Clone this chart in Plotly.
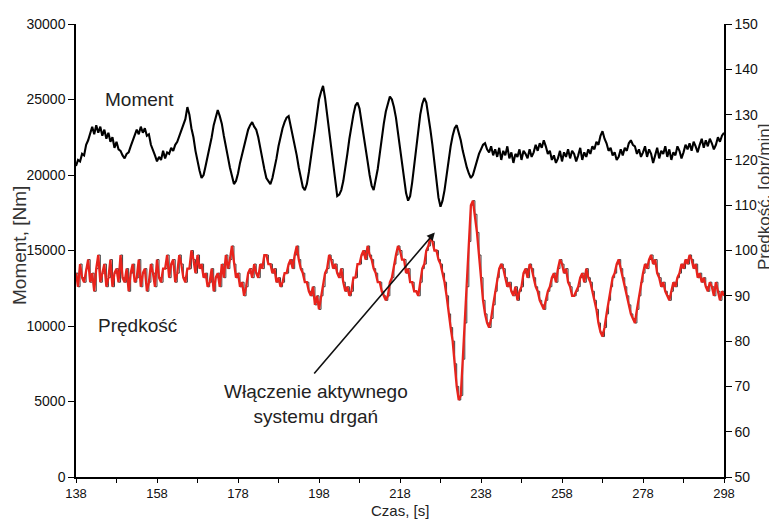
import numpy as np
import plotly.graph_objects as go

t0, t1, dt = 138.0, 298.0, 0.5
czas = [t0 + i * dt for i in range(int((t1 - t0) / dt) + 1)]

moment = [
    20600, 21000, 20900, 21400, 21300, 22000, 22300, 22700, 23200, 22700,
    23300, 22800, 23200, 22600, 23000, 22400, 22800, 22200, 22500, 21800,
    22200, 21700, 21600, 21300, 21100, 21400, 21500, 21900, 22300, 22600,
    23000, 22700, 23200, 22800, 23100, 22600, 22700, 22000, 21700, 21300,
    20900, 21200, 21000, 21600, 21100, 21500, 21400, 21800, 21600, 22000,
    22200, 22600, 22900, 23400, 23700, 24500, 24000, 23100, 22500, 21600,
    20900, 20300, 19800, 20000, 20600, 21200, 21900, 22500, 23300, 23800,
    24300, 23900, 23400, 22600, 22000, 21200, 20500, 19900, 19400, 19600,
    20100, 20800, 21400, 22000, 22600, 23000, 23300, 23500, 23200, 23000,
    22500, 21700, 21100, 20400, 19800, 19600, 19400, 19800, 20400, 21100,
    21900, 22600, 23100, 23500, 23800, 23900, 23300, 22700, 22100, 21300,
    20500, 19800, 19200, 19000, 19400, 20200, 21000, 22100, 23000, 23900,
    25000, 25500, 25900, 25100, 24000, 22800, 21600, 20400, 19300, 18600,
    18700, 19000, 19600, 20400, 21400, 22400, 23300, 24000, 24600, 24800,
    24400, 23600, 22800, 21900, 20900, 20000, 19300, 19000, 19600, 20400,
    21400, 22500, 23400, 24200, 24800, 25200, 25000, 24500, 23800, 22800,
    21800, 20700, 19600, 18800, 18300, 18600, 19500, 20600, 21900, 23000,
    24000, 24700, 25100, 24800, 24000, 23000, 22000, 20700, 19500, 18500,
    17900, 18300, 19000, 20000, 21000, 21900, 22600, 23100, 23300, 22800,
    22300, 21600, 21000, 20500, 20100, 19800, 20000, 20500, 20900, 21400,
    21700, 22000, 22100, 21700, 21500, 21900, 21300, 21700, 21200, 21800,
    21000, 21600, 21300, 21900, 21100, 21500, 20800, 21400, 21200, 21700,
    21000, 21600, 21400, 21100, 21700, 21200, 21500, 22000, 21600, 22100,
    21800, 22300, 21900, 21400, 21600, 21000, 21300, 20800, 21100, 21600,
    20900, 21500, 21200, 21700, 21100, 21600, 21400, 20900, 21300, 21800,
    21000, 21500, 21200, 21700, 21400, 21900, 21700, 22200, 22000, 22600,
    22900, 22400, 22100, 21600, 21800, 21300, 21500, 21000, 21200, 21700,
    21300, 21800, 21600, 22100, 22300, 22000, 21900, 21400, 21700, 21200,
    21500, 21900, 21200, 21700, 21400, 20800, 21300, 21800, 21100, 21600,
    21400, 21900, 21200, 21700, 21000, 21500, 21300, 21900, 21600, 21100,
    21500, 22000, 21700, 22100, 21600, 22200, 21900, 21500, 22000, 22400,
    21800, 22300, 21900, 22400, 22100, 21700, 22000, 22500, 22200, 22600,
    22800,
]

predkosc = [
    95, 92, 97, 94, 93, 96, 98, 93, 95, 91,
    96, 99, 93, 95, 97, 92, 94, 98, 92, 95,
    96, 93, 99, 94, 93, 96, 91, 95, 97, 93,
    94, 98, 92, 95, 96, 91, 93, 97, 95, 92,
    98, 94, 93, 96, 96, 99, 94, 97, 98, 93,
    95, 99, 97, 94, 93, 96, 96, 100, 98, 95,
    99, 96, 97, 94, 95, 92, 93, 96, 91, 94,
    95, 92, 97, 94, 99, 96, 98, 101, 97, 94,
    95, 92, 93, 90, 92, 95, 96, 94, 97, 95,
    94, 97, 96, 99, 99, 97, 97, 95, 96, 93,
    94, 92, 93, 95, 95, 97, 98, 96, 99, 101,
    98, 96, 95, 93, 93, 91, 90, 92, 88, 90,
    87, 90, 92, 95, 96, 99, 98, 96, 97, 95,
    94, 96, 93, 91, 92, 90, 91, 94, 94, 97,
    97, 99, 100, 98, 101, 99, 98, 96, 95, 93,
    93, 91, 90, 89, 90, 93, 94, 97, 99, 101,
    100, 98, 98, 95, 96, 93, 93, 91, 91, 90,
    93, 96, 97, 100, 101, 103, 102, 100, 100, 98,
    97, 95, 93, 90, 86, 83, 80, 75, 70, 67,
    68, 76, 84, 92, 102, 110, 111, 108, 104, 99,
    94, 89, 86, 84, 83, 85, 88, 91, 94, 96,
    97, 96, 94, 92, 93, 91, 90, 92, 89, 91,
    92, 95, 96, 94, 97, 96, 94, 92, 91, 89,
    88, 87, 89, 91, 92, 94, 95, 93, 96, 98,
    97, 95, 96, 93, 92, 90, 90, 91, 92, 94,
    95, 93, 96, 94, 93, 91, 89, 87, 84, 82,
    81, 83, 86, 89, 92, 94, 95, 97, 98, 96,
    94, 92, 90, 88, 86, 85, 84, 87, 90, 93,
    95, 97, 96, 98, 99, 97, 98, 95, 94, 92,
    93, 91, 90, 89, 91, 93, 92, 94, 95, 97,
    96, 98, 97, 99, 98, 96, 97, 94, 95, 93,
    94, 92, 91, 93, 92, 90, 93, 91, 89, 91,
    90,
]

x_ticks = list(range(138, 299, 20))
y_left_ticks = list(range(0, 30001, 5000))
y_right_ticks = list(range(50, 151, 10))

font_main = "Liberation Sans, Arial, sans-serif"

fig = go.Figure()
fig.add_trace(go.Scatter(x=czas, y=moment, mode="lines", name="Moment",
                         line=dict(color="#000000", width=2.1), yaxis="y"))
fig.add_trace(go.Scatter(x=czas, y=predkosc, mode="lines", name="Prędkość",
                         line=dict(color="#3e3e3e", width=1, shape="hv"), yaxis="y2"))
fig.add_trace(go.Scatter(x=czas, y=predkosc, mode="lines", name="Prędkość",
                         line=dict(color="#e8231c", width=2.3), yaxis="y2"))

axis_common = dict(ticks="outside", ticklen=6, tickcolor="black", tickwidth=1.3,
                   showline=True, linecolor="black", linewidth=1.5,
                   showgrid=False, zeroline=False, automargin=False,
                   tickfont=dict(family=font_main, size=14, color="#111111"))

x_axis_style = {**axis_common, "ticklen": 4,
                "tickfont": dict(family=font_main, size=13, color="#111111")}

fig.update_layout(
    width=769, height=512,
    margin=dict(l=68, r=53, t=16, b=43),
    paper_bgcolor="white", plot_bgcolor="white",
    showlegend=False,
    font=dict(family=font_main, color="#222222", size=13),
    xaxis=dict(range=[138, 298], tickvals=x_ticks,
               minor=dict(dtick=10, tick0=138, ticks="outside", ticklen=4,
                          tickcolor="black", tickwidth=1.3),
               **x_axis_style),
    yaxis=dict(range=[0, 30000], tickvals=y_left_ticks, tickformat="d", **axis_common),
    yaxis2=dict(range=[50, 150], tickvals=y_right_ticks, overlaying="y", side="right",
                **axis_common),
)

# axis titles
fig.add_annotation(x=-0.0864, y=0.51, xref="paper", yref="paper", text="Moment, [Nm]",
                   textangle=-90, showarrow=False, xanchor="center", yanchor="middle",
                   font=dict(size=19, color="#333333"))
fig.add_annotation(x=1.0618, y=0.618, xref="paper", yref="paper", text="Predkość. [obr/min]",
                   textangle=-90, showarrow=False, xanchor="center", yanchor="middle",
                   font=dict(size=17, color="#333333"))
fig.add_annotation(x=0.5, y=-0.075, xref="paper", yref="paper", text="Czas, [s]",
                   showarrow=False, xanchor="center", yanchor="middle",
                   font=dict(size=15, color="#222222"))

# in-plot labels
fig.add_annotation(x=153.8, y=24970, xref="x", yref="y", text="Moment",
                   showarrow=False, font=dict(size=19, color="#222222"))
fig.add_annotation(x=153.3, y=10066, xref="x", yref="y", text="Prędkość",
                   showarrow=False, font=dict(size=19, color="#222222"))
fig.add_annotation(x=226.6, y=16200, xref="x", yref="y", ax=196.5, ay=6750,
                   axref="x", ayref="y", text="", showarrow=True, arrowhead=2,
                   arrowsize=1, arrowwidth=1.6, arrowcolor="#111111")
fig.add_annotation(x=197.3, y=4850, xref="x", yref="y",
                   text="Włączenie aktywnego<br>systemu drgań",
                   showarrow=False, font=dict(size=19, color="#222222"), align="center")

fig.write_html("out.html")
